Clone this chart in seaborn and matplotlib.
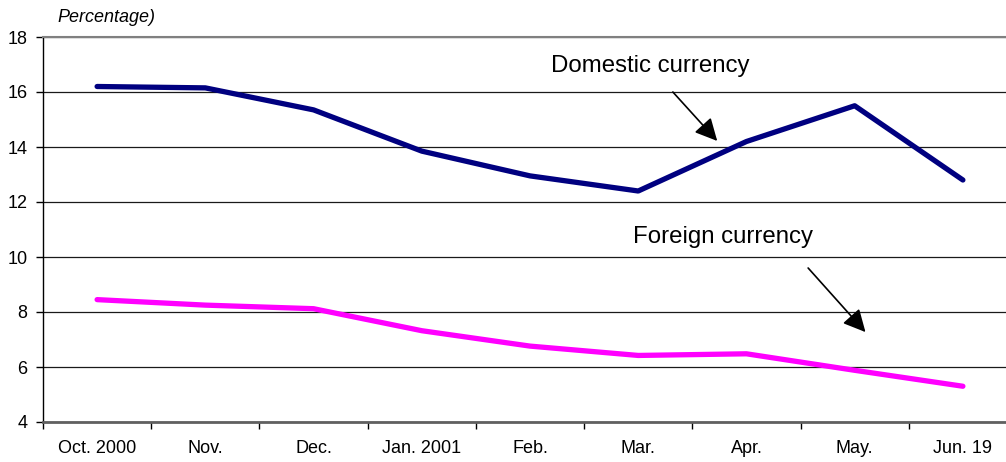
import numpy as np
import pandas as pd
import matplotlib
matplotlib.use("Agg")
import matplotlib.pyplot as plt
import seaborn as sns

# Monthly interest rate series (percent)
months = ["Oct. 2000", "Nov.", "Dec.", "Jan. 2001", "Feb.", "Mar.", "Apr.", "May.", "Jun. 19"]
domestic = [16.2, 16.15, 15.35, 13.85, 12.95, 12.4, 14.2, 15.5, 12.8]
foreign = [8.45, 8.25, 8.12, 7.32, 6.76, 6.42, 6.48, 5.88, 5.3]
y_ticks = [4, 6, 8, 10, 12, 14, 16, 18]

sns.set_theme(style="white")
plt.rcParams["font.family"] = ["Liberation Sans", "DejaVu Sans"]

df = pd.DataFrame({
    "month": months * 2,
    "rate": domestic + foreign,
    "series": ["Domestic currency"] * len(months) + ["Foreign currency"] * len(months),
})

fig = plt.figure(figsize=(10.06, 4.62), dpi=100)
ax = fig.add_axes([43 / 1006, 1 - 422 / 462, 974 / 1006, 385 / 462])

sns.lineplot(
    data=df, x="month", y="rate", hue="series",
    palette={"Domestic currency": "#000080", "Foreign currency": "#FF00FF"},
    linewidth=3.8, legend=False, ax=ax, sort=False,
)

ax.set_xlim(-0.5, len(months) - 0.5)
ax.set_ylim(4, 18)
ax.set_xlabel("")
ax.set_ylabel("")

# Horizontal gridlines
ax.set_yticks(y_ticks)
ax.set_yticklabels([str(v) for v in y_ticks])
ax.yaxis.grid(True, color="#1a1a1a", linewidth=0.9)
ax.set_axisbelow(True)

# Category labels centred, tick marks on the category boundaries
ax.set_xticks(range(len(months)))
ax.set_xticklabels(months)
ax.set_xticks(np.arange(-0.5, len(months), 1.0), minor=True)
ax.tick_params(axis="x", which="major", length=0, pad=13, labelsize=13, colors="black")
ax.tick_params(axis="x", which="minor", length=5, width=1, color="black", direction="out", bottom=True)
ax.tick_params(axis="y", which="major", length=5, width=1, color="black", direction="out",
               left=True, pad=6, labelsize=13, labelcolor="black")

ax.spines["right"].set_visible(False)
ax.spines["left"].set_color("black")
ax.spines["left"].set_linewidth(1)
ax.spines["bottom"].set_color("#606060")
ax.spines["bottom"].set_linewidth(2)
ax.spines["top"].set_color("#808080")
ax.spines["top"].set_linewidth(1.5)

fig.text(57 / 1006, 1 - 18 / 462, "Percentage)", fontsize=13, style="italic",
         ha="left", va="center", color="black")

arrow = dict(arrowstyle="-|>", color="black", lw=1.2, mutation_scale=34, shrinkA=0, shrinkB=0)
ax.text(5.11, 16.95, "Domestic currency", fontsize=17.3, ha="center", va="center", color="black")
ax.annotate("", xy=(5.73, 14.22), xytext=(5.32, 16.0), arrowprops=arrow)
ax.text(5.78, 10.73, "Foreign currency", fontsize=17.3, ha="center", va="center", color="black")
ax.annotate("", xy=(7.10, 7.27), xytext=(6.57, 9.6), arrowprops=arrow)

fig.savefig("out.png", dpi=100)
